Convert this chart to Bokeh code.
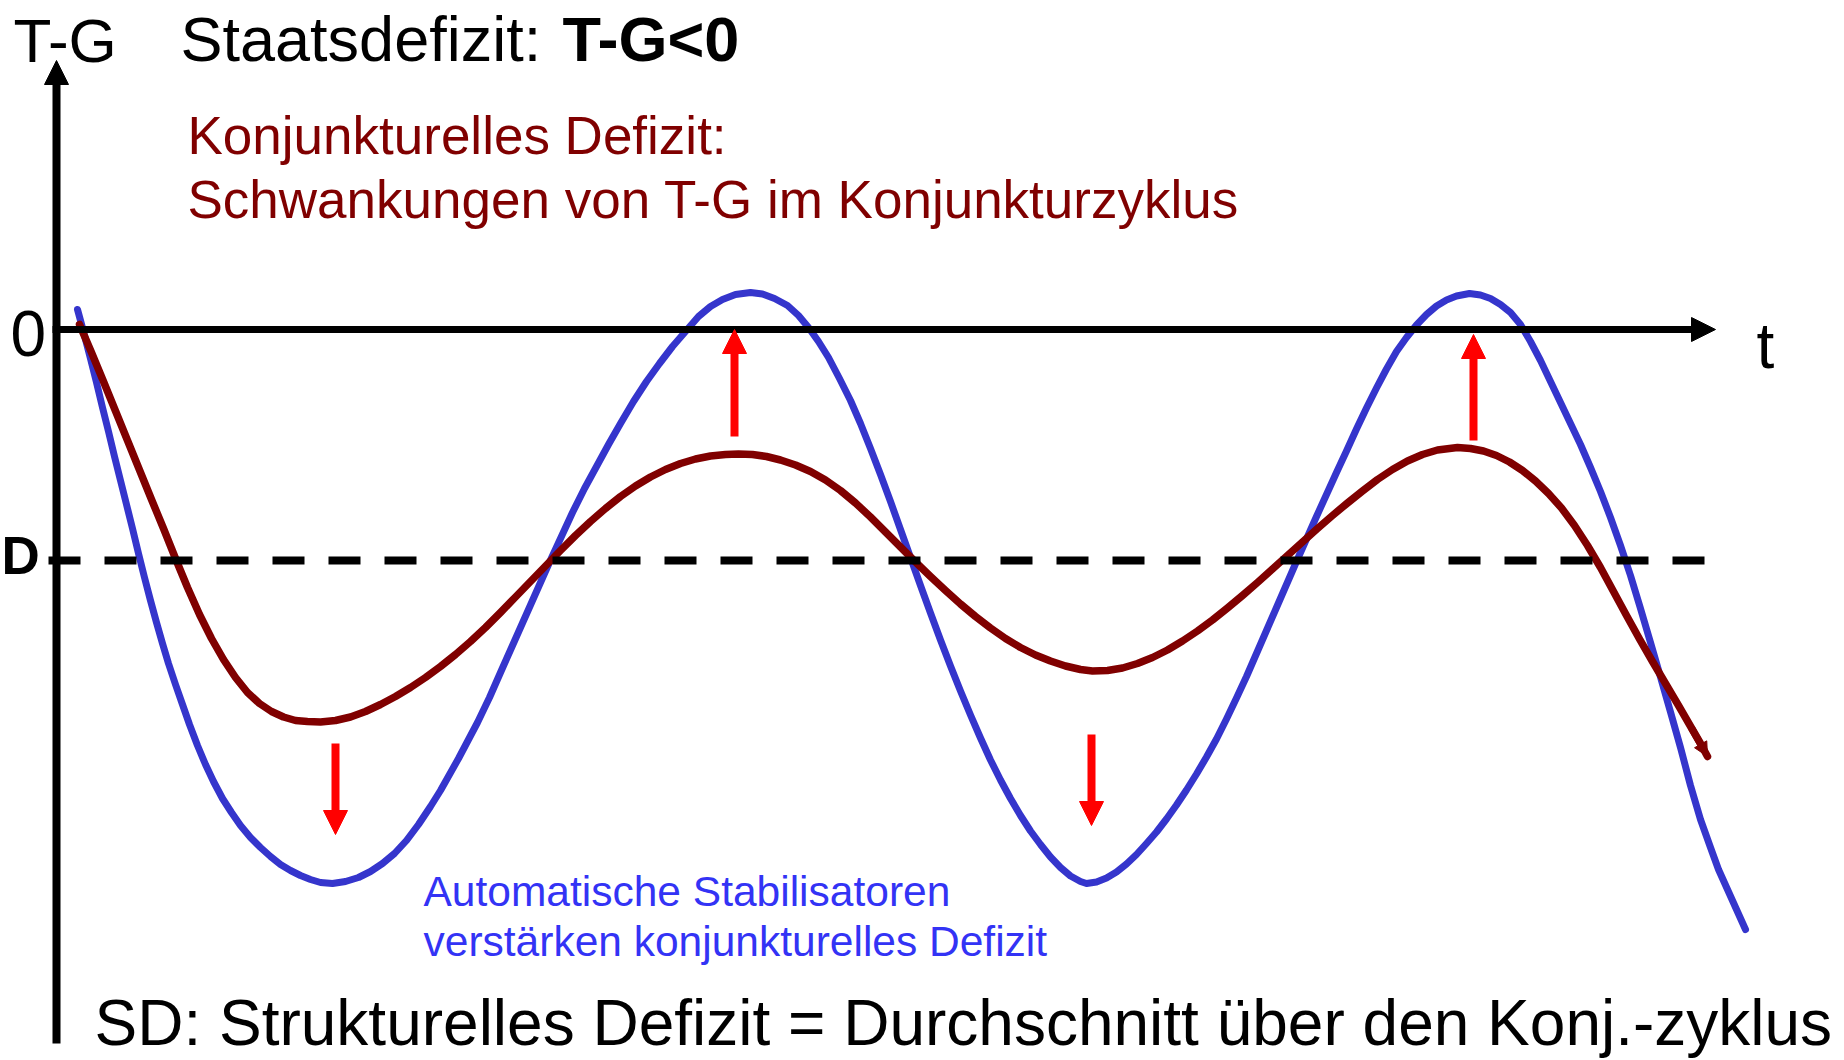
from bokeh.plotting import figure
from bokeh.models import Range1d, ColumnDataSource, Arrow, NormalHead
from bokeh.core.properties import value
from bokeh.embed import file_html
from bokeh.resources import INLINE

# ---------------- data (schematic units: t = time, v = T-G; 0 = balanced budget)
# Automatic stabilisers: amplified cyclical deficit (blue)
blue_t = [21, 24, 28, 34, 40, 46, 52, 58, 64, 70, 76, 82, 88, 94, 100, 106, 112, 119, 126,
          133, 141, 149, 157, 166, 175, 184, 194, 204, 214, 224, 234, 244, 254, 264, 276,
          289, 302, 314, 326, 338, 350, 362, 374, 384, 402, 421, 433, 444, 456, 468, 480,
          492, 504, 516, 528, 540, 552, 564, 577, 590, 603, 616, 629, 642, 654, 666, 679,
          694, 706, 718, 731, 742, 752, 762, 772, 783, 794, 804, 814, 824, 834, 844, 854,
          864, 874, 884, 894, 904, 914, 924, 934, 944, 954, 964, 974, 984, 994, 1004, 1014,
          1024, 1030, 1040, 1050, 1060, 1070, 1080, 1090, 1100, 1110, 1120, 1130, 1140,
          1150, 1160, 1170, 1180, 1190, 1200, 1210, 1220, 1230, 1240, 1250, 1260, 1270,
          1280, 1290, 1300, 1310, 1320, 1330, 1340, 1350, 1360, 1370, 1380, 1390, 1400,
          1413, 1424, 1434, 1444, 1454, 1464, 1474, 1484, 1494, 1504, 1514, 1524, 1534,
          1544, 1554, 1564, 1574, 1584, 1594, 1604, 1614, 1624, 1634, 1644, 1654, 1662, 1689]
blue_v = [20, 9, -6, -29, -53, -78, -102, -127, -151, -175, -199, -224, -248, -271, -293,
          -314, -334, -355, -375, -395, -416, -435, -452, -469, -483, -496, -508, -518, -527,
          -535, -541, -546, -550, -553, -554, -552, -548, -542, -534, -524, -511, -495, -477,
          -461, -429, -393, -368, -343, -316, -289, -262, -235, -209, -183, -159, -137, -115,
          -94, -72, -52, -34, -17, -2, 13, 23, 30, 35, 37, 35.5, 31, 24, 14, 2, -12, -28, -49,
          -71, -94, -119, -145, -172, -200, -228, -256, -283.5, -310.5, -336.5, -361.5,
          -385.5, -408.5, -430.5, -450.5, -469, -486, -501.5, -515, -527.5, -538, -546.5,
          -552, -554, -552.5, -548.5, -542.5, -534.5, -525, -514, -502.5, -489.5, -475.5,
          -460.5, -444.5, -427.5, -409.5, -389.5, -368.5, -347, -324, -301, -278, -255,
          -232, -209.5, -187, -165, -143, -121.5, -99.5, -78.5, -58.5, -39.5, -22, -8, 4.5,
          15, 23.5, 29.5, 33.5, 36, 34.5, 31, 25, 17, 5, -12, -31, -52, -73, -94, -115,
          -138, -162, -188, -216, -246, -279, -313, -347.5, -382.5, -418, -456, -490, -518,
          -540, -600]

# Cyclical deficit: fluctuations of T-G over the business cycle (dark red)
red_t = [23, 35, 47, 59, 71, 83, 95, 107, 119, 131, 143, 155, 167, 179, 191, 203, 215, 227,
         239, 251, 264, 279, 294, 309, 324, 339, 354, 369, 384, 399, 414, 429, 444, 459, 474,
         489, 504, 519, 534, 549, 564, 579, 594, 609, 624, 639, 654, 669, 682, 696, 710, 724,
         739, 754, 769, 784, 799, 814, 829, 844, 859, 874, 889, 904, 919, 934, 949, 964, 979,
         994, 1009, 1024, 1036, 1051, 1066, 1081, 1096, 1111, 1126, 1141, 1156, 1171, 1186,
         1201, 1216, 1231, 1246, 1261, 1276, 1291, 1306, 1321, 1336, 1351, 1366, 1381, 1401,
         1414, 1427, 1440, 1453, 1466, 1479, 1492, 1505, 1518, 1531, 1544, 1557, 1570, 1583,
         1596, 1609, 1622, 1635, 1644, 1651]
red_v = [5, -23, -52, -81.5, -111, -140.5, -170, -199, -229, -258, -285, -309, -330, -348,
         -363, -374, -382, -387.5, -391, -392, -392.5, -391, -387.5, -382, -375, -367, -358,
         -348, -337, -325, -312, -298, -283, -267.5, -252, -236.5, -221, -206, -192, -179,
         -167, -156.5, -147.5, -140, -134, -129.5, -126.5, -125, -124.5, -125, -127, -130.5,
         -135.5, -142, -150.5, -161, -173.5, -187.5, -202.5, -217.5, -232.5, -247, -261,
         -274.5, -287, -298.5, -309, -318, -325.5, -331.5, -336.5, -340, -341.5, -341,
         -338.5, -334, -328, -320.5, -311.5, -301.5, -290.5, -278.5, -266, -253, -239.5,
         -226, -212.5, -199, -186, -173.5, -161.5, -150, -140, -131.5, -125, -120.5, -118,
         -119, -121.5, -126, -132.5, -141, -151.5, -164, -178.5, -196, -216, -238, -262,
         -286, -309.5, -332, -354, -376, -398.5, -414, -427]

# Structural deficit level D (average over the cycle)
d_level = -231
d_extent = [-8, 1648]

# Red arrows: effect of automatic stabilisers at the turning points
arrow_t = [279, 678, 1035, 1417]
arrow_from = [-414, -107, -405, -111]
arrow_to = [-505, 0, -496, -5]

# Axes extents
y_axis_t = [0, 0]
y_axis_v = [-714, 269]
t_axis_t = [-4, 1659]
t_axis_v = [0, 0]

# Texts
title_regular = "Staatsdefizit:"
title_bold = "T-G<0"
red_lines = ["Konjunkturelles Defizit:", "Schwankungen von T-G im Konjunkturzyklus"]
blue_lines = ["Automatische Stabilisatoren", "verstärken konjunkturelles Defizit"]
bottom_line = "SD: Strukturelles Defizit = Durchschnitt über den Konj.-zyklus"
y_label = "T-G"
t_label = "t"
zero_label = "0"
d_label = "D"

BLUE = "#3535CC"
BLUE_TXT = "#3333F5"
DARKRED = "#800000"
RED = "#FF0000"
FONT = value("Liberation Sans")

p = figure(width=1844, height=1060, x_range=Range1d(-56, 1788), y_range=Range1d(-731, 329),
           output_backend="svg", toolbar_location=None, x_axis_type=None, y_axis_type=None,
           min_border=0, background_fill_color="white", border_fill_color="white")
p.outline_line_color = None

# curves
p.line(blue_t, blue_v, line_width=7, line_color=BLUE, line_join="round", line_cap="round")
p.line(red_t, red_v, line_width=7.5, line_color=DARKRED, line_join="round", line_cap="round")
p.add_layout(Arrow(end=NormalHead(size=14, fill_color=DARKRED, line_color=DARKRED),
                   x_start=red_t[-3], y_start=red_v[-3], x_end=red_t[-1], y_end=red_v[-1],
                   line_width=7, line_color=DARKRED))

# D line
p.line(d_extent, [d_level, d_level], line_width=8, line_color="black", line_dash="32 24")

# axes
p.add_layout(Arrow(end=NormalHead(size=24, fill_color="black", line_color="black"),
                   x_start=y_axis_t[0], y_start=y_axis_v[0], x_end=y_axis_t[1], y_end=y_axis_v[1],
                   line_width=8, line_color="black"))
p.add_layout(Arrow(end=NormalHead(size=24, fill_color="black", line_color="black"),
                   x_start=t_axis_t[0], y_start=t_axis_v[0], x_end=t_axis_t[1], y_end=t_axis_v[1],
                   line_width=7, line_color="black"))

# red arrows
asrc = ColumnDataSource(dict(x=arrow_t, y0=arrow_from, y1=arrow_to))
p.add_layout(Arrow(end=NormalHead(size=24, fill_color=RED, line_color=RED),
                   x_start="x", y_start="y0", x_end="x", y_end="y1", source=asrc,
                   line_width=8, line_color=RED))

def txt(x, y, s, size, color="black", style="normal"):
    p.text(x=[x], y=[y], text=[s], text_font=FONT, text_font_size=value(f"{size}px"),
           text_color=color, text_font_style=style, text_align="left",
           text_baseline="alphabetic")

txt(-43, 289, y_label, 62)
txt(124, 291, title_regular, 63)
txt(506, 291, title_bold, 63, style="bold")
txt(131, 194, red_lines[0], 53, DARKRED)
txt(131, 130, red_lines[1], 53, DARKRED)
txt(-46, -4, zero_label, 64)
txt(-55, -226, d_label, 53, style="bold")
txt(1700, -16, t_label, 64)
txt(367, -562, blue_lines[0], 42.5, BLUE_TXT)
txt(367, -612, blue_lines[1], 42.5, BLUE_TXT)
txt(38, -693, bottom_line, 64)

open("out.html", "w").write(file_html(p, INLINE))
